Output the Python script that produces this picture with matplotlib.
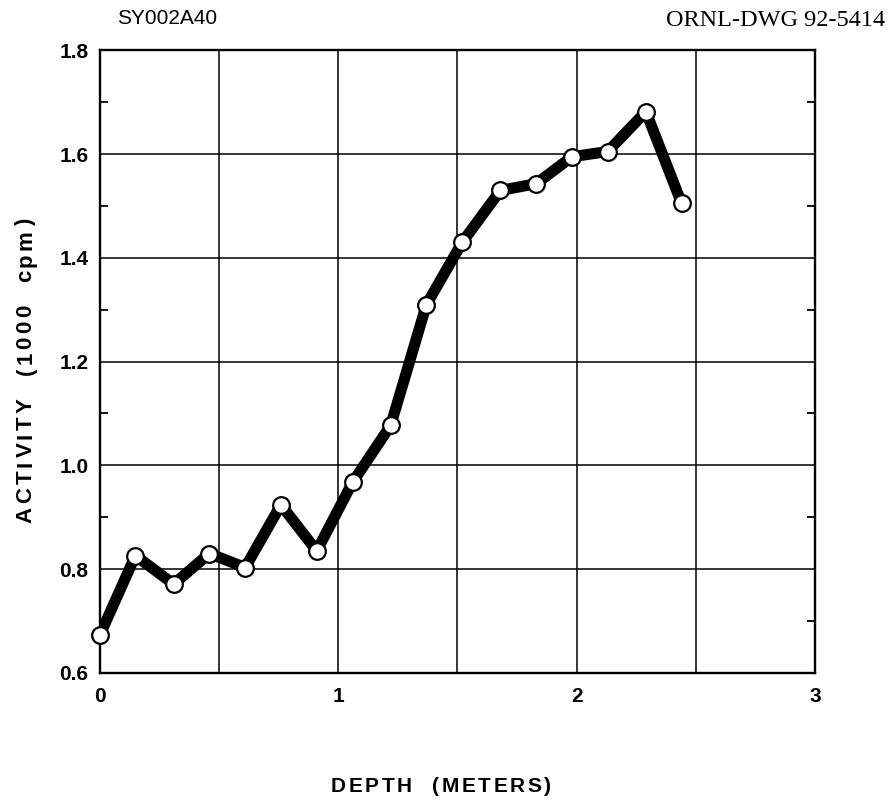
import matplotlib
matplotlib.use("Agg")
import matplotlib.pyplot as plt
from matplotlib.ticker import MultipleLocator, FixedLocator
from matplotlib.font_manager import FontProperties
from matplotlib.transforms import IdentityTransform

depth = [0.0, 0.15, 0.31, 0.46, 0.61, 0.76, 0.91, 1.06, 1.22, 1.37,
         1.52, 1.68, 1.83, 1.98, 2.13, 2.29, 2.44]
activity = [0.672, 0.826, 0.771, 0.830, 0.803, 0.924, 0.835, 0.967, 1.077, 1.310,
            1.430, 1.530, 1.543, 1.595, 1.605, 1.682, 1.505]
xticks = [0, 1, 2, 3]
yticks = [0.6, 0.8, 1.0, 1.2, 1.4, 1.6, 1.8]

W, H = 890, 800
fig = plt.figure(figsize=(W / 100, H / 100), dpi=100)
ax = fig.add_axes([0.112, 0.159, 0.804, 0.778])

ax.set_xlim(0, 3)
ax.set_ylim(0.6, 1.8)

ax.xaxis.set_major_locator(FixedLocator(xticks))
ax.xaxis.set_minor_locator(MultipleLocator(0.5))
ax.yaxis.set_major_locator(FixedLocator(yticks))
ax.yaxis.set_minor_locator(MultipleLocator(0.1))

ax.grid(which='major', axis='y', color='black', linewidth=1.1)
ax.grid(which='both', axis='x', color='black', linewidth=1.1)
ax.set_axisbelow(True)

for s in ax.spines.values():
    s.set_linewidth(1.7)

tickfont = FontProperties(family='Liberation Sans', weight='bold', size=15)
ax.tick_params(axis='y', which='major', direction='in', length=0, pad=8)
ax.tick_params(axis='y', which='minor', direction='in', length=6, width=1.3,
               left=True, right=True)
ax.tick_params(axis='x', which='both', direction='in', length=0, pad=10)
ax.set_xticklabels([str(v) for v in xticks], fontproperties=tickfont)
ax.set_yticklabels([f"{v:.1f}" for v in yticks], fontproperties=tickfont)

ax.plot(depth, activity, color='black', linewidth=8, solid_joinstyle='round',
        solid_capstyle='round', zorder=3)
ax.plot(depth, activity, linestyle='none', marker='o', markersize=12,
        markerfacecolor='white', markeredgecolor='black', markeredgewidth=1.6,
        zorder=4, clip_on=False)


def tracked_text(s, cx, cy, size, track, rotation=0):
    """Draw letter-spaced text centred at pixel (cx, cy) measured from top-left."""
    renderer = fig.canvas.get_renderer()
    prop = FontProperties(family='Liberation Sans', weight='bold', size=size)
    widths = [renderer.get_text_width_height_descent(c, prop, ismath=False)[0] for c in s]
    cap = renderer.get_text_width_height_descent("H", prop, ismath=False)[1]
    total = sum(widths) + track * (len(s) - 1)
    pos = -total / 2
    ycen = H - cy
    for c, w in zip(s, widths):
        mid = pos + w / 2
        if rotation == 0:
            x, y = cx + mid, ycen - cap / 2
        else:
            x, y = cx + cap / 2, ycen + mid
        fig.text(x, y, c, transform=IdentityTransform(), ha='center', va='baseline',
                 rotation=rotation, rotation_mode='anchor', fontproperties=prop)
        pos += w + track


tracked_text("DEPTH  (METERS)", 441, 785, 15, 2.7)
tracked_text("ACTIVITY  (1000  cpm)", 24, 371, 16, 3.4, rotation=90)

fig.text(167 / W, 1 - 18 / H, "SY002A40", ha='center', va='center', fontsize=15,
         family='Liberation Sans')
fig.text(885 / W, 1 - 20 / H, "ORNL-DWG 92-5414", ha='right', va='center', fontsize=17.5,
         family='Liberation Serif')

fig.savefig("out.png", dpi=100, facecolor='white')
